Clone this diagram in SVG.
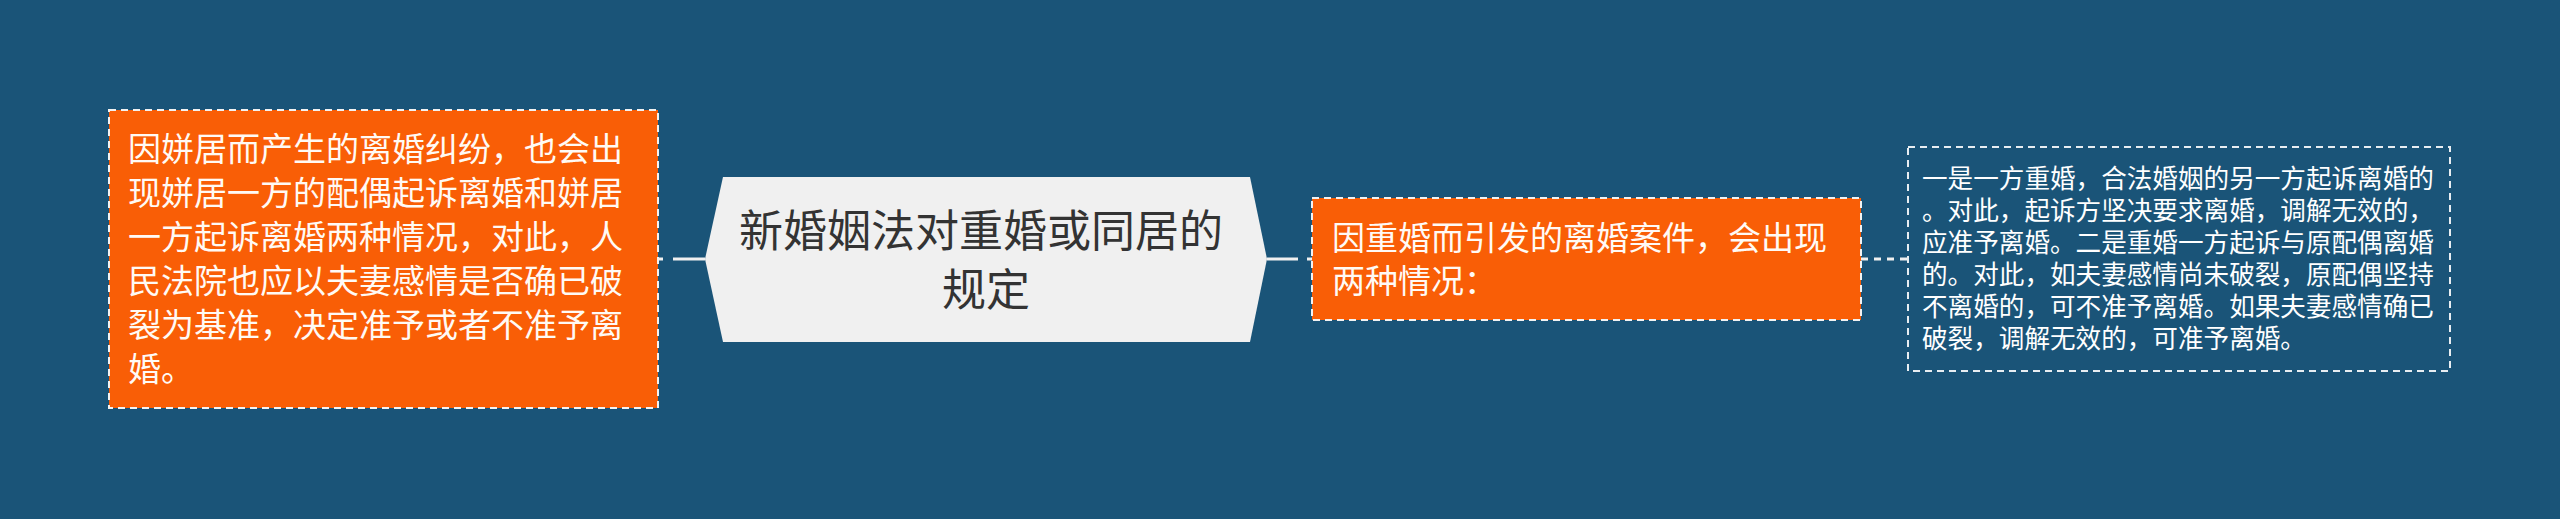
<svg xmlns="http://www.w3.org/2000/svg" width="2560" height="519" viewBox="0 0 2560 519">
<style>
.bg{fill:#1a5478}
.obox{fill:#f95e06;stroke:#f2f2f2;stroke-width:2;stroke-dasharray:7 5}
.tbox{fill:none;stroke:#e8eef2;stroke-width:2;stroke-dasharray:7 5}
.hex{fill:#f0f0f0}
.t{font-family:"Noto Sans CJK SC","Liberation Sans",sans-serif}
.wt{fill:#fffaf5;font-size:33px}
.rt{fill:#ffffff;font-size:25.6px}
.ct{fill:#333333;font-size:44px;text-anchor:middle}
.conn{stroke:#f0f0f0;stroke-width:3;fill:none}
</style>
<rect class="bg" x="0" y="0" width="2560" height="519"/>
<g id="connectors">
<line class="conn" x1="658" y1="259" x2="705" y2="259" stroke-dasharray="5 10 40"/>
<line class="conn" x1="1267" y1="259" x2="1312" y2="259" stroke-dasharray="31 9 6"/>
<line class="conn" x1="1861" y1="259" x2="1908" y2="259" stroke-dasharray="7 6"/>
</g>
<g id="node-left">
<rect class="obox" x="109" y="110" width="549" height="298"/>
<text class="t wt">
<tspan x="128" y="161">因姘居而产生的离婚纠纷，也会出</tspan>
<tspan x="128" y="205">现姘居一方的配偶起诉离婚和姘居</tspan>
<tspan x="128" y="249">一方起诉离婚两种情况，对此，人</tspan>
<tspan x="128" y="293">民法院也应以夫妻感情是否确已破</tspan>
<tspan x="128" y="337">裂为基准，决定准予或者不准予离</tspan>
<tspan x="128" y="381">婚。</tspan>
</text>
</g>
<g id="node-root">
<polygon class="hex" points="705,259 723,177 1250,177 1267,259 1250,342 723,342"/>
<text class="t ct">
<tspan x="986" y="247">新婚姻法对重婚或同居的</tspan>
<tspan x="986" y="306">规定</tspan>
</text>
</g>
<g id="node-middle">
<rect class="obox" x="1312" y="198" width="549" height="122"/>
<text class="t wt">
<tspan x="1332" y="250">因重婚而引发的离婚案件，会出现</tspan>
<tspan x="1332" y="293">两种情况：</tspan>
</text>
</g>
<g id="node-right">
<rect class="tbox" x="1908" y="147" width="542" height="224"/>
<text class="t rt">
<tspan x="1922" y="188">一是一方重婚，合法婚姻的另一方起诉离婚的</tspan>
<tspan x="1922" y="220">。对此，起诉方坚决要求离婚，调解无效的，</tspan>
<tspan x="1922" y="252">应准予离婚。二是重婚一方起诉与原配偶离婚</tspan>
<tspan x="1922" y="284">的。对此，如夫妻感情尚未破裂，原配偶坚持</tspan>
<tspan x="1922" y="316">不离婚的，可不准予离婚。如果夫妻感情确已</tspan>
<tspan x="1922" y="348">破裂，调解无效的，可准予离婚。</tspan>
</text>
</g>
</svg>
